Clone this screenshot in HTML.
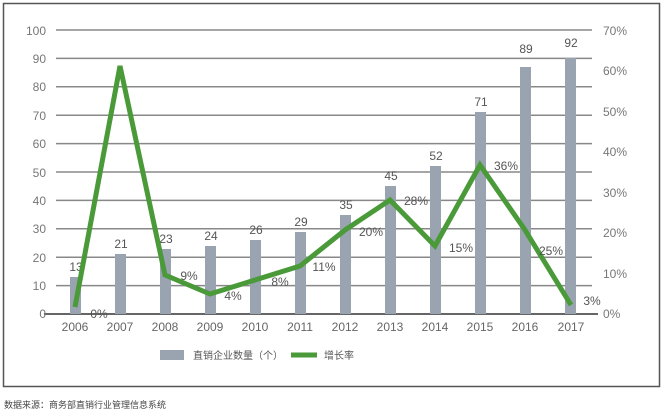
<!DOCTYPE html><html><head><meta charset="utf-8"><style>
body{margin:0;background:#fff;width:663px;height:415px;overflow:hidden;font-family:"Liberation Sans","Noto Sans CJK SC",sans-serif}
</style></head><body>
<svg width="663" height="415" xmlns="http://www.w3.org/2000/svg" font-family="Liberation Sans, Noto Sans CJK SC, sans-serif">
<rect x="3.5" y="3.5" width="656" height="383" fill="#fff" stroke="#555" stroke-width="1.5"/>
<g stroke="#888" stroke-width="1.5">
<line x1="56" x2="592" y1="30" y2="30"/><line x1="56" x2="592" y1="58.4" y2="58.4"/><line x1="56" x2="592" y1="86.8" y2="86.8"/><line x1="56" x2="592" y1="115.2" y2="115.2"/><line x1="56" x2="592" y1="143.6" y2="143.6"/><line x1="56" x2="592" y1="172" y2="172"/><line x1="56" x2="592" y1="200.4" y2="200.4"/><line x1="56" x2="592" y1="228.8" y2="228.8"/><line x1="56" x2="592" y1="257.2" y2="257.2"/><line x1="56" x2="592" y1="285.6" y2="285.6"/><line x1="44" x2="598" y1="314" y2="314" stroke="#666" stroke-width="2"/>
</g>
<g font-size="12" fill="#777" text-anchor="end">
<text x="46" y="35">100</text><text x="46" y="63">90</text><text x="46" y="91">80</text><text x="46" y="120">70</text><text x="46" y="148">60</text><text x="46" y="177">50</text><text x="46" y="205">40</text><text x="46" y="233">30</text><text x="46" y="262">20</text><text x="46" y="290">10</text><text x="46" y="318">0</text>
</g>
<g font-size="12" fill="#777">
<text x="603" y="35">70%</text><text x="603" y="75">60%</text><text x="603" y="116">50%</text><text x="603" y="156">40%</text><text x="603" y="197">30%</text><text x="603" y="237">20%</text><text x="603" y="278">10%</text><text x="603" y="318">0%</text>
</g>
<g fill="#9aa3b0">
<rect x="70" y="277" width="11" height="37"/><rect x="115" y="254" width="11" height="60"/><rect x="160" y="249" width="11" height="65"/><rect x="205" y="246" width="11" height="68"/><rect x="250" y="240" width="11" height="74"/><rect x="295" y="232" width="11" height="82"/><rect x="340" y="215" width="11" height="99"/><rect x="385" y="186" width="11" height="128"/><rect x="430" y="166" width="11" height="148"/><rect x="475" y="112" width="11" height="202"/><rect x="520" y="67" width="11" height="247"/><rect x="565" y="58" width="11" height="256"/>
</g>
<g font-size="12" fill="#555" text-anchor="middle">
<text x="76" y="271">13</text><text x="121" y="248">21</text><text x="166" y="243">23</text><text x="211" y="240">24</text><text x="256" y="234">26</text><text x="301" y="226">29</text><text x="346" y="209">35</text><text x="391" y="180">45</text><text x="436" y="160">52</text><text x="481" y="106">71</text><text x="526" y="53">89</text><text x="571" y="47">92</text>
</g>
<polyline fill="none" stroke="#4a9a3a" stroke-width="5" stroke-linejoin="miter" points="75,307 120,66 165,275 210,294 255,280 300,266 345,230 390,200 435,246 480,165 525,230 571,305"/>
<g font-size="12" fill="#555" text-anchor="middle">
<text x="99" y="318">0%</text><text x="189" y="280">9%</text><text x="233" y="300">4%</text><text x="280" y="286">8%</text><text x="324" y="271">11%</text><text x="371" y="236">20%</text><text x="416" y="205">28%</text><text x="461" y="252">15%</text><text x="506" y="170">36%</text><text x="551" y="255">25%</text><text x="592" y="305">3%</text>
</g>
<g font-size="12" fill="#666" text-anchor="middle">
<text x="75" y="331">2006</text><text x="120" y="331">2007</text><text x="165" y="331">2008</text><text x="210" y="331">2009</text><text x="255" y="331">2010</text><text x="300" y="331">2011</text><text x="345" y="331">2012</text><text x="390" y="331">2013</text><text x="435" y="331">2014</text><text x="480" y="331">2015</text><text x="525" y="331">2016</text><text x="571" y="331">2017</text>
</g>
<rect x="160" y="350" width="24" height="10" fill="#9aa3b0"/>
<text x="193" y="359" font-size="10" fill="#555">直销企业数量（个）</text>
<line x1="291" x2="317" y1="355" y2="355" stroke="#4a9a3a" stroke-width="5"/>
<text x="324" y="359" font-size="10" fill="#555">增长率</text>
<text x="4" y="408" font-size="9" fill="#444">数据来源：商务部直销行业管理信息系统</text>
</svg>
</body></html>
